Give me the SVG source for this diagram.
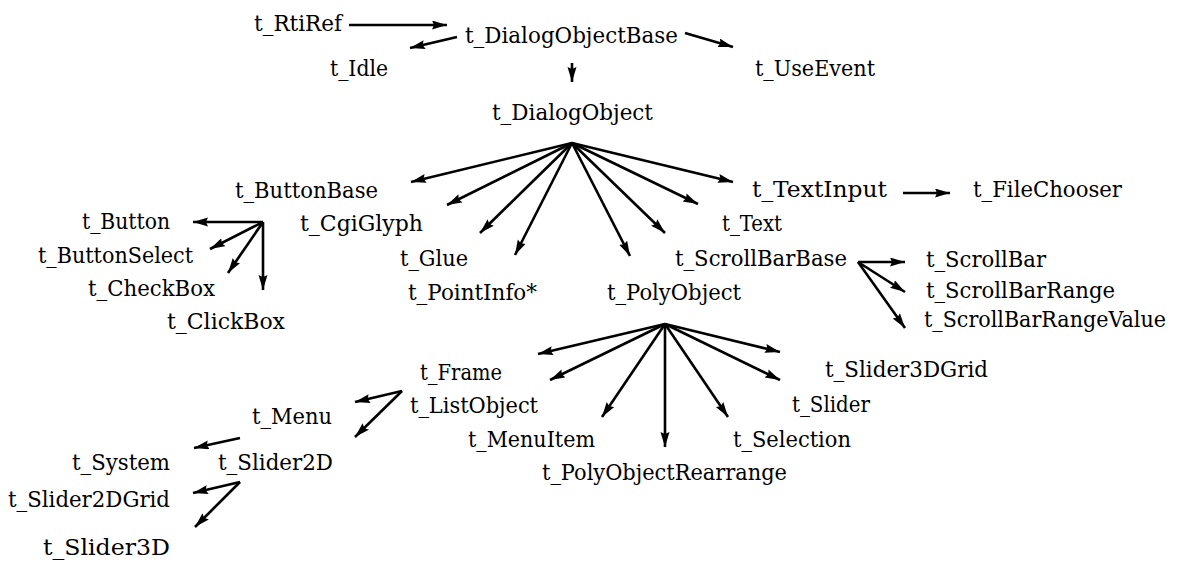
<svg xmlns="http://www.w3.org/2000/svg" width="1181" height="564" viewBox="0 0 1181 564">
<style>
.t text{font-family:'DejaVu Serif','Liberation Serif',serif;font-size:22px;fill:#000}
.c line{stroke:#000;stroke-width:2.6;marker-end:url(#ah)}
</style>
<defs>
<marker id="ah" markerUnits="userSpaceOnUse" markerWidth="16" markerHeight="10" refX="15" refY="4.5" orient="auto">
<path d="M0,0 L15,4.5 L0,9 L2,4.5 z" fill="#000"/>
</marker>
</defs>
<rect width="1181" height="564" fill="#fff"/>
<g class="t">
<g id="n-rtiref"><text x="254" y="31" textLength="88" lengthAdjust="spacingAndGlyphs">t_RtiRef</text></g>
<g id="n-dialogobjectbase"><text x="465" y="43" textLength="213" lengthAdjust="spacingAndGlyphs">t_DialogObjectBase</text></g>
<g id="n-idle"><text x="330" y="76" textLength="58" lengthAdjust="spacingAndGlyphs">t_Idle</text></g>
<g id="n-useevent"><text x="755" y="76" textLength="120" lengthAdjust="spacingAndGlyphs">t_UseEvent</text></g>
<g id="n-dialogobject"><text x="492" y="120" textLength="161" lengthAdjust="spacingAndGlyphs">t_DialogObject</text></g>
<g id="n-buttonbase"><text x="235" y="198" textLength="143" lengthAdjust="spacingAndGlyphs">t_ButtonBase</text></g>
<g id="n-textinput"><text x="752" y="197" textLength="135" lengthAdjust="spacingAndGlyphs">t_TextInput</text></g>
<g id="n-filechooser"><text x="973" y="197" textLength="149" lengthAdjust="spacingAndGlyphs">t_FileChooser</text></g>
<g id="n-button"><text x="82" y="229" textLength="88" lengthAdjust="spacingAndGlyphs">t_Button</text></g>
<g id="n-cgiglyph"><text x="300" y="231" textLength="123" lengthAdjust="spacingAndGlyphs">t_CgiGlyph</text></g>
<g id="n-text"><text x="722" y="231" textLength="60" lengthAdjust="spacingAndGlyphs">t_Text</text></g>
<g id="n-buttonselect"><text x="38" y="263" textLength="155" lengthAdjust="spacingAndGlyphs">t_ButtonSelect</text></g>
<g id="n-glue"><text x="400" y="266" textLength="68" lengthAdjust="spacingAndGlyphs">t_Glue</text></g>
<g id="n-scrollbarbase"><text x="675" y="266" textLength="172" lengthAdjust="spacingAndGlyphs">t_ScrollBarBase</text></g>
<g id="n-scrollbar"><text x="926" y="267" textLength="120" lengthAdjust="spacingAndGlyphs">t_ScrollBar</text></g>
<g id="n-checkbox"><text x="88" y="296" textLength="127" lengthAdjust="spacingAndGlyphs">t_CheckBox</text></g>
<g id="n-pointinfo"><text x="408" y="300" textLength="129" lengthAdjust="spacingAndGlyphs">t_PointInfo*</text></g>
<g id="n-polyobject"><text x="607" y="300" textLength="134" lengthAdjust="spacingAndGlyphs">t_PolyObject</text></g>
<g id="n-scrollbarrange"><text x="926" y="298" textLength="189" lengthAdjust="spacingAndGlyphs">t_ScrollBarRange</text></g>
<g id="n-clickbox"><text x="167" y="329" textLength="118" lengthAdjust="spacingAndGlyphs">t_ClickBox</text></g>
<g id="n-scrollbarrangevalue"><text x="924" y="327" textLength="242" lengthAdjust="spacingAndGlyphs">t_ScrollBarRangeValue</text></g>
<g id="n-frame"><text x="420" y="380" textLength="82" lengthAdjust="spacingAndGlyphs">t_Frame</text></g>
<g id="n-slider3dgrid"><text x="825" y="377" textLength="163" lengthAdjust="spacingAndGlyphs">t_Slider3DGrid</text></g>
<g id="n-listobject"><text x="410" y="413" textLength="128" lengthAdjust="spacingAndGlyphs">t_ListObject</text></g>
<g id="n-slider"><text x="792" y="412" textLength="78" lengthAdjust="spacingAndGlyphs">t_Slider</text></g>
<g id="n-menu"><text x="252" y="424" textLength="80" lengthAdjust="spacingAndGlyphs">t_Menu</text></g>
<g id="n-menuitem"><text x="468" y="447" textLength="127" lengthAdjust="spacingAndGlyphs">t_MenuItem</text></g>
<g id="n-selection"><text x="733" y="447" textLength="118" lengthAdjust="spacingAndGlyphs">t_Selection</text></g>
<g id="n-system"><text x="72" y="470" textLength="98" lengthAdjust="spacingAndGlyphs">t_System</text></g>
<g id="n-slider2d"><text x="218" y="470" textLength="115" lengthAdjust="spacingAndGlyphs">t_Slider2D</text></g>
<g id="n-polyobjectrearrange"><text x="542" y="480" textLength="245" lengthAdjust="spacingAndGlyphs">t_PolyObjectRearrange</text></g>
<g id="n-slider2dgrid"><text x="8" y="507" textLength="162" lengthAdjust="spacingAndGlyphs">t_Slider2DGrid</text></g>
<g id="n-slider3d"><text x="43" y="555" textLength="127" lengthAdjust="spacingAndGlyphs">t_Slider3D</text></g>
</g>
<g id="connectors" class="c">
<line x1="349" y1="25" x2="447" y2="25"/>
<line x1="457" y1="37" x2="410" y2="48"/>
<line x1="685" y1="33" x2="733" y2="47"/>
<line x1="572" y1="63" x2="572" y2="82"/>
<line x1="572" y1="143" x2="411" y2="182"/>
<line x1="572" y1="143" x2="447" y2="205"/>
<line x1="572" y1="143" x2="480" y2="233"/>
<line x1="572" y1="143" x2="515" y2="255"/>
<line x1="572" y1="143" x2="630" y2="256"/>
<line x1="572" y1="143" x2="665" y2="233"/>
<line x1="572" y1="143" x2="698" y2="204"/>
<line x1="572" y1="143" x2="733" y2="182"/>
<line x1="903" y1="193" x2="950" y2="193"/>
<line x1="263" y1="222" x2="193" y2="222"/>
<line x1="263" y1="222" x2="210" y2="249"/>
<line x1="263" y1="222" x2="228" y2="273"/>
<line x1="263" y1="222" x2="263" y2="290"/>
<line x1="858" y1="262" x2="905" y2="262"/>
<line x1="858" y1="262" x2="905" y2="292"/>
<line x1="858" y1="262" x2="905" y2="328"/>
<line x1="665" y1="324" x2="538" y2="354"/>
<line x1="665" y1="324" x2="550" y2="380"/>
<line x1="665" y1="324" x2="602" y2="417"/>
<line x1="665" y1="324" x2="665" y2="447"/>
<line x1="665" y1="324" x2="728" y2="417"/>
<line x1="665" y1="324" x2="780" y2="380"/>
<line x1="665" y1="324" x2="780" y2="352"/>
<line x1="402" y1="391" x2="355" y2="402"/>
<line x1="402" y1="391" x2="355" y2="437"/>
<line x1="240" y1="438" x2="194" y2="448"/>
<line x1="240" y1="482" x2="193" y2="493"/>
<line x1="240" y1="482" x2="195" y2="527"/>
</g>
</svg>
